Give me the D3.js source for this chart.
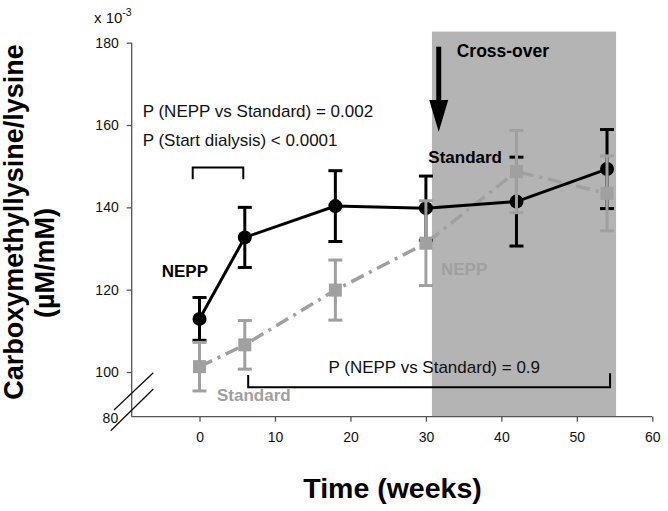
<!DOCTYPE html>
<html>
<head>
<meta charset="utf-8">
<script src="https://cdn.jsdelivr.net/npm/d3@7/dist/d3.min.js"></script>
<style>
  html, body { margin: 0; padding: 0; background: #fff; }
  svg { display: block; font-family: "Liberation Sans", Arial, sans-serif; }
</style>
</head>
<body>
<svg id="chart" width="668" height="511"></svg>
<script>
// ---- data ----
const weeks = [0, 6, 18, 30, 42, 54];
const neppMean = [112.9, 132.7, 140.3, 139.8, 141.4, 149.3];
const neppErr = [5.2, 7.3, 8.6, 7.8, 10.8, 9.6];
const standardMean = [101.3, 106.6, 119.9, 131.3, 148.7, 143.4];
const standardErr = [5.9, 5.9, 7.3, 10.3, 10.0, 9.1];
const xTicks = [0, 10, 20, 30, 40, 50, 60];
const yTicks = [100, 120, 140, 160, 180];
const yBreakLabel = "80";
const crossoverWeeks = [30.8, 55.2];

// ---- layout ----
const svg = d3.select("#chart");
const axisX = 131.7, axisBottom = 416.7;
const x = d3.scaleLinear().domain([-9, 60]).range([131.6, 652.3]);
const y = d3.scaleLinear().domain([100, 180]).range([372, 42.7]);
const black = "#000", grey = "#a0a0a0", shade = "#b4b4b4";
const font = '"Liberation Sans", Arial, sans-serif';

// shaded cross-over region
svg.append("rect")
  .attr("x", x(crossoverWeeks[0]))
  .attr("y", y(182.7))
  .attr("width", x(crossoverWeeks[1]) - x(crossoverWeeks[0]))
  .attr("height", axisBottom - y(182.7))
  .attr("fill", shade);

// axes
const yAxis = d3.axisLeft(y).tickValues(yTicks).tickSize(5).tickPadding(8);
const gy = svg.append("g").attr("transform", `translate(${axisX},0)`).call(yAxis);
gy.select(".domain").remove();
gy.selectAll("line").attr("stroke", "#555").attr("stroke-width", 1.3);
gy.selectAll("text").attr("font-size", 14).attr("font-family", font).attr("fill", "#111");
svg.append("line").attr("x1", axisX).attr("x2", axisX).attr("y1", y(180)).attr("y2", axisBottom)
  .attr("stroke", "#555").attr("stroke-width", 1.3);
svg.append("text").attr("x", axisX - 13.5).attr("y", axisBottom + 1).attr("dy", "0.35em")
  .attr("text-anchor", "end").attr("font-size", 14).attr("fill", "#111").text(yBreakLabel);

const xAxis = d3.axisBottom(x).tickValues(xTicks).tickSize(5).tickPadding(10);
const gx = svg.append("g").attr("transform", `translate(0,${axisBottom})`).call(xAxis);
gx.select(".domain").attr("stroke", "#555").attr("stroke-width", 1.3)
  .attr("d", `M${axisX},0H${x(60)}`);
gx.selectAll("line").attr("stroke", "#555").attr("stroke-width", 1.3);
gx.selectAll("text").attr("font-size", 14).attr("font-family", font).attr("fill", "#111");

// axis break marks
svg.append("line").attr("x1", 114).attr("y1", 410).attr("x2", 153.3).attr("y2", 372.7)
  .attr("stroke", "#111").attr("stroke-width", 1.3);
svg.append("line").attr("x1", 110.7).attr("y1", 430.7).attr("x2", 153.3).attr("y2", 389)
  .attr("stroke", "#111").attr("stroke-width", 1.3);

// exponent label
const ex = svg.append("text").attr("x", 94).attr("y", 23).attr("font-size", 15).attr("fill", "#111");
ex.append("tspan").text("x 10");
ex.append("tspan").attr("font-size", 10.5).attr("dy", -7).text("-3");

// axis titles
svg.append("text").attr("transform", "translate(23,222) rotate(-90)")
  .attr("text-anchor", "middle").attr("font-size", 27).attr("font-weight", "bold")
  .text("Carboxymethyllysine/lysine");
svg.append("text").attr("transform", "translate(54,263) rotate(-90)")
  .attr("text-anchor", "middle").attr("font-size", 27).attr("font-weight", "bold")
  .text("(µM/mM)");
svg.append("text").attr("x", 392.5).attr("y", 497.7).attr("text-anchor", "middle")
  .attr("font-size", 28.5).attr("font-weight", "bold").text("Time (weeks)");

// series data
const nepp = weeks.map((w, i) => ({ w, m: neppMean[i], e: neppErr[i] }));
const std = weeks.map((w, i) => ({ w, m: standardMean[i], e: standardErr[i] }));
const line = d3.line().x(d => x(d.w)).y(d => y(d.m));

function errorBars(data, color) {
  const g = svg.append("g").attr("stroke", color).attr("stroke-width", 3).attr("fill", "none");
  data.forEach(d => {
    g.append("line").attr("x1", x(d.w)).attr("x2", x(d.w)).attr("y1", y(d.m + d.e)).attr("y2", y(d.m - d.e));
    g.append("line").attr("x1", x(d.w) - 7).attr("x2", x(d.w) + 7).attr("y1", y(d.m + d.e)).attr("y2", y(d.m + d.e));
    g.append("line").attr("x1", x(d.w) - 7).attr("x2", x(d.w) + 7).attr("y1", y(d.m - d.e)).attr("y2", y(d.m - d.e));
  });
}

// standard line (dash-dot)
svg.append("path").datum(std).attr("d", line).attr("fill", "none")
  .attr("stroke", grey).attr("stroke-width", 3.5).attr("stroke-dasharray", "14,6,3,6");

// NEPP
errorBars(nepp, black);
svg.append("path").datum(nepp).attr("d", line).attr("fill", "none")
  .attr("stroke", black).attr("stroke-width", 3);
svg.append("g").selectAll("circle").data(nepp).join("circle")
  .attr("cx", d => x(d.w)).attr("cy", d => y(d.m)).attr("r", 7).attr("fill", black);

// Standard error bars and markers on top
errorBars(std, grey);
svg.append("g").selectAll("rect").data(std).join("rect")
  .attr("x", d => x(d.w) - 6.5).attr("y", d => y(d.m) - 6.5)
  .attr("width", 13).attr("height", 13).attr("fill", grey);

// annotations
svg.append("text").attr("x", 142.7).attr("y", 117.3).attr("font-size", 17).attr("fill", "#111")
  .text("P (NEPP vs Standard) = 0.002");
svg.append("text").attr("x", 142.7).attr("y", 145.7).attr("font-size", 17).attr("fill", "#111")
  .text("P (Start dialysis) < 0.0001");
svg.append("path").attr("fill", "none").attr("stroke", black).attr("stroke-width", 2)
  .attr("d", `M${x(-0.9)},${y(146.8)}V${y(149.7)}H${x(5.8)}V${y(146.8)}`);

svg.append("text").attr("x", 328.5).attr("y", 372.7).attr("font-size", 17).attr("fill", "#111")
  .text("P (NEPP vs Standard) = 0.9");
svg.append("path").attr("fill", "none").attr("stroke", black).attr("stroke-width", 2)
  .attr("d", `M${x(6.45)},${y(99.3)}V${y(96.3)}H${x(54.4)}V${y(99.7)}`);

svg.append("text").attr("x", 161.7).attr("y", 277).attr("font-size", 17).attr("font-weight", "bold")
  .attr("fill", black).text("NEPP");
svg.append("text").attr("x", 217).attr("y", 400.7).attr("font-size", 17).attr("font-weight", "bold")
  .attr("fill", grey).text("Standard");
svg.append("text").attr("x", 428.3).attr("y", 163.3).attr("font-size", 17).attr("font-weight", "bold")
  .attr("fill", black).text("Standard");
svg.append("text").attr("x", 441).attr("y", 275).attr("font-size", 17).attr("font-weight", "bold")
  .attr("fill", grey).text("NEPP");
svg.append("text").attr("x", 456.7).attr("y", 57.3).attr("font-size", 17.5).attr("font-weight", "bold")
  .attr("fill", black).text("Cross-over");

// cross-over arrow
const ax = x(31.7);
svg.append("line").attr("x1", ax).attr("x2", ax).attr("y1", 46.7).attr("y2", 104)
  .attr("stroke", black).attr("stroke-width", 5);
svg.append("path").attr("fill", black)
  .attr("d", `M${ax - 9.5},100 L${ax + 9.5},100 L${ax},131.7 Z`);
</script>
</body>
</html>
